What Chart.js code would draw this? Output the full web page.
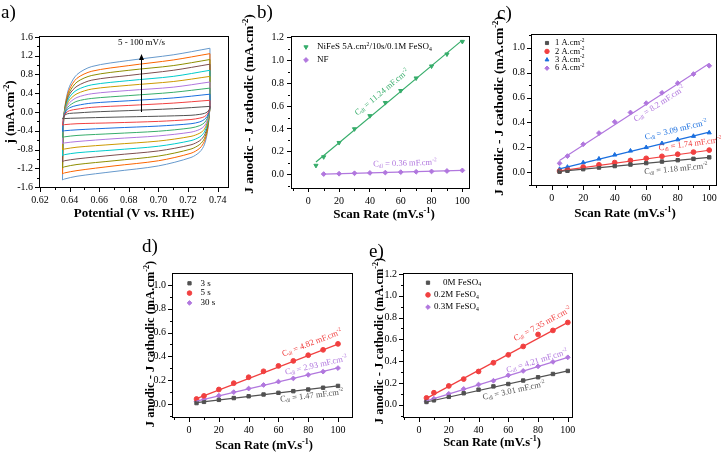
<!DOCTYPE html>
<html><head><meta charset="utf-8">
<script src="https://cdn.jsdelivr.net/npm/chart.js@4.4.1/dist/chart.umd.min.js"></script>
<style>
html,body{margin:0;padding:0;background:#fff;}
#wrap{position:relative;width:721px;height:454px;overflow:hidden;background:#fff;}
canvas{position:absolute;}
.ln{position:absolute;background:#000;z-index:1000;}
</style></head><body><div id="wrap">
<canvas id="ca"></canvas><canvas id="cb"></canvas><canvas id="cc"></canvas><canvas id="cd"></canvas><canvas id="ce"></canvas>
</div>
<script>
// ---------- DATA ----------
// (a) CV curves, scan rates 5..100 mV/s
const CV_RATES = [5, 10, 20, 30, 40, 50, 60, 70, 80, 90, 100];
const CV_P_FWD = [0.6352, 0.6360, 0.6375, 0.6400, 0.6450, 0.6550, 0.6800, 0.7100, 0.7348];
const CV_P_REV = [0.7348, 0.7348, 0.7343, 0.7330, 0.7310, 0.7280, 0.7220, 0.7000, 0.6700, 0.6450, 0.6365, 0.6352];
const CV_J_FWD = [
  [-0.15, -0.10, -0.05, -0.03, -0.02, 0.00, 0.03, 0.07, 0.12],
  [-0.28, -0.11, -0.02, 0.03, 0.06, 0.10, 0.14, 0.19, 0.25],
  [-0.41, -0.11, 0.01, 0.09, 0.14, 0.19, 0.24, 0.30, 0.38],
  [-0.54, -0.12, 0.04, 0.14, 0.23, 0.29, 0.35, 0.42, 0.51],
  [-0.67, -0.12, 0.07, 0.20, 0.31, 0.39, 0.46, 0.53, 0.64],
  [-0.80, -0.13, 0.10, 0.26, 0.39, 0.49, 0.57, 0.65, 0.76],
  [-0.93, -0.13, 0.13, 0.32, 0.47, 0.58, 0.67, 0.76, 0.89],
  [-1.06, -0.14, 0.16, 0.38, 0.55, 0.68, 0.78, 0.89, 1.02],
  [-1.19, -0.14, 0.19, 0.43, 0.64, 0.78, 0.89, 0.99, 1.12],
  [-1.32, -0.15, 0.22, 0.49, 0.72, 0.87, 0.99, 1.11, 1.245],
  [-1.45, -0.15, 0.25, 0.55, 0.80, 0.97, 1.10, 1.22, 1.36]
];
const CV_J_REV = [
  [0.12, 0.10, 0.05, 0.00, -0.03, -0.05, -0.07, -0.09, -0.11, -0.13, -0.14, -0.15],
  [0.25, 0.11, 0.035, -0.045, -0.10, -0.13, -0.16, -0.20, -0.23, -0.25, -0.27, -0.28],
  [0.38, 0.11, 0.02, -0.09, -0.16, -0.21, -0.25, -0.30, -0.34, -0.38, -0.40, -0.41],
  [0.51, 0.12, 0.005, -0.135, -0.23, -0.29, -0.34, -0.41, -0.46, -0.50, -0.53, -0.54],
  [0.64, 0.12, -0.01, -0.18, -0.30, -0.37, -0.43, -0.51, -0.57, -0.63, -0.66, -0.67],
  [0.76, 0.125, -0.025, -0.225, -0.37, -0.45, -0.52, -0.62, -0.69, -0.75, -0.79, -0.80],
  [0.89, 0.13, -0.04, -0.27, -0.43, -0.53, -0.61, -0.73, -0.81, -0.87, -0.91, -0.93],
  [1.02, 0.135, -0.055, -0.315, -0.50, -0.61, -0.70, -0.83, -0.92, -1.00, -1.04, -1.06],
  [1.12, 0.14, -0.07, -0.36, -0.57, -0.69, -0.79, -0.94, -1.04, -1.12, -1.17, -1.19],
  [1.245, 0.145, -0.085, -0.405, -0.63, -0.77, -0.88, -1.04, -1.15, -1.25, -1.30, -1.32],
  [1.36, 0.15, -0.10, -0.45, -0.70, -0.85, -0.97, -1.15, -1.27, -1.37, -1.43, -1.45]
];
const A_X_TICKS = [0.62, 0.64, 0.66, 0.68, 0.70, 0.72, 0.74];
const A_Y_TICKS = [-1.6, -1.2, -0.8, -0.4, 0.0, 0.4, 0.8, 1.2, 1.6];

// scan rates for (b)-(e)
const SCAN = [5, 10, 20, 30, 40, 50, 60, 70, 80, 90, 100];
const FIT_X = [5, 100];
const RATE_TICKS = [0, 20, 40, 60, 80, 100];

// (b)
const B_NIFES = [0.08, 0.155, 0.28, 0.40, 0.515, 0.63, 0.735, 0.845, 0.95, 1.055, 1.165];
const B_NF_X = [10, 20, 30, 40, 50, 60, 70, 80, 90, 100];
const B_NF = [0.005, 0.008, 0.012, 0.015, 0.018, 0.022, 0.025, 0.028, 0.032, 0.037];
const B_FIT_NIFES = [0.11, 1.178];
const B_FIT_NF_X = [10, 100];
const B_FIT_NF = [0.004, 0.037];
const B_Y_TICKS = [0.0, 0.2, 0.4, 0.6, 0.8, 1.0, 1.2];

// (c)
const C_1A = [0.005, 0.012, 0.025, 0.038, 0.05, 0.062, 0.074, 0.086, 0.097, 0.108, 0.12];
const C_2A = [0.01, 0.022, 0.042, 0.06, 0.078, 0.095, 0.112, 0.128, 0.145, 0.162, 0.178];
const C_3A = [0.025, 0.042, 0.078, 0.108, 0.14, 0.172, 0.20, 0.232, 0.262, 0.29, 0.318];
const C_6A = [0.072, 0.13, 0.225, 0.315, 0.405, 0.48, 0.555, 0.638, 0.715, 0.788, 0.855];
const C_FIT_1A = [0.008, 0.12];
const C_FIT_2A = [0.012, 0.177];
const C_FIT_3A = [0.028, 0.322];
const C_FIT_6A = [0.095, 0.874];
const CDE_Y_TICKS = [0.0, 0.2, 0.4, 0.6, 0.8, 1.0];

// (d)
const D_3S = [0.008, 0.018, 0.035, 0.05, 0.065, 0.08, 0.094, 0.108, 0.122, 0.137, 0.152];
const D_5S = [0.042, 0.068, 0.122, 0.175, 0.225, 0.275, 0.32, 0.362, 0.41, 0.455, 0.505];
const D_30S = [0.022, 0.04, 0.07, 0.10, 0.13, 0.16, 0.188, 0.215, 0.245, 0.272, 0.302];
const D_FIT_3S = [0.012, 0.152];
const D_FIT_5S = [0.045, 0.503];
const D_FIT_30S = [0.025, 0.303];

// (e)
const E_0M = [0.025, 0.04, 0.072, 0.105, 0.138, 0.168, 0.19, 0.222, 0.252, 0.282, 0.31];
const E_02M = [0.062, 0.11, 0.172, 0.235, 0.305, 0.385, 0.458, 0.535, 0.645, 0.682, 0.755];
const E_03M = [0.03, 0.055, 0.10, 0.145, 0.185, 0.22, 0.27, 0.31, 0.352, 0.393, 0.435];
const E_FIT_0M = [0.025, 0.311];
const E_FIT_02M = [0.058, 0.756];
const E_FIT_03M = [0.035, 0.435];
const E_Y_TICKS = [0.0, 0.2, 0.4, 0.6, 0.8, 1.0, 1.2];

// ---------- STYLE ----------
const PAL = ['#515151','#F14040','#1A6FDF','#37AD6B','#B177DE','#CC9900','#00CBCC','#7D4E4E','#8E8E00','#FB6501','#6699CC'];
const GRAY = '#515151', RED = '#F14040', BLUE = '#1A6FDF', GREEN = '#37AD6B', PURPLE = '#B177DE';
const FAM = "'Liberation Serif','Times New Roman',serif";

// ---------- helpers ----------
function parseRich(s){
  const out=[]; const re=/\{([_^])([^}]*)\}/g; let last=0,m;
  while((m=re.exec(s))){ if(m.index>last) out.push([s.slice(last,m.index),'']); out.push([m[2],m[1]]); last=re.lastIndex; }
  if(last<s.length) out.push([s.slice(last),'']);
  return out;
}
function drawRich(ctx, s, x, y, size, o){
  o = o || {};
  const segs=parseRich(s);
  const wt = o.bold ? 'bold ' : '';
  const fontFor = m => wt + (m ? size*0.64 : size) + 'px ' + FAM;
  let total=0;
  const ws=segs.map(([t,m])=>{ ctx.font=fontFor(m); const w=ctx.measureText(t).width; total+=w; return w; });
  ctx.save();
  ctx.translate(x,y); ctx.rotate(o.rot||0);
  ctx.fillStyle=o.color||'#000'; ctx.textBaseline='middle'; ctx.textAlign='left';
  let cx = o.align==='left' ? 0 : -total/2;
  segs.forEach(([t,m],i)=>{
    ctx.font=fontFor(m);
    const dy = m==='^' ? -size*0.33 : (m==='_' ? size*0.24 : 0);
    ctx.fillText(t,cx,dy); cx+=ws[i];
  });
  ctx.restore();
}
function pts(xs, ys){ return xs.map((x,i)=>({x:x, y:ys[i]})); }
function markerPoint(ctx, style, rot, r, x, y){
  if (Chart.helpers && Chart.helpers.drawPoint) {
    Chart.helpers.drawPoint(ctx, {pointStyle: style, rotation: rot||0, radius: r, borderWidth: 1}, x, y);
  }
}

// frame + ticks geometry, derived from the chart's own scales
function axisMarks(chart, withFrame, withMajor){
  const a = chart.chartArea, xs = chart.scales.x, ys = chart.scales.y;
  const L = Math.round(a.left)-1, T = Math.round(a.top)-1, R = Math.round(a.right), B = Math.round(a.bottom);
  const rects = withFrame ? [[L, T, R-L+1, 1], [L, B, R-L+1, 1], [L, T, 1, B-T+1], [R, T, 1, B-T+1]] : [];
  [[xs, true], [ys, false]].forEach(([scale, horiz]) => {
    const v = scale.ticks.map(t=>t.value);
    if (v.length < 2) return;
    const st = v[1]-v[0];
    if (withMajor) v.forEach(mv => {
      const p = Math.round(scale.getPixelForValue(mv));
      rects.push(horiz ? [p, B+1, 1, 4] : [L-4, p, 4, 1]);
    });
    for (let i=-1;i<v.length;i++){
      const mv = v[0] + (i+0.5)*st;
      if (mv < scale.min-1e-9 || mv > scale.max+1e-9) continue;
      const p = Math.round(scale.getPixelForValue(mv));
      rects.push(horiz ? [p, B+1, 1, 2] : [L-2, p, 2, 1]);
    }
  });
  return rects;
}

const panelPlugin = {
  id: 'panel',
  beforeDatasetsDraw(chart, args, o) {
    if (o.mode !== 'before') return;
    const ctx = chart.ctx;
    ctx.save(); ctx.fillStyle = '#000';
    axisMarks(chart, true, true).forEach(r => ctx.fillRect(r[0], r[1], r[2], r[3]));
    ctx.restore();
  },
  afterDraw(chart, args, o) {
    const ctx = chart.ctx, a = chart.chartArea, xs = chart.scales.x, ys = chart.scales.y;
    const ox = o.off[0], oy = o.off[1];
    ctx.save();
    ctx.fillStyle = '#000';
    if (o.mode === 'after') axisMarks(chart, true, true).forEach(r => ctx.fillRect(r[0], r[1], r[2], r[3]));
    if (o.mode === 'native') axisMarks(chart, false, false).forEach(r => ctx.fillRect(r[0], r[1], r[2], r[3]));
    if (o.arrow){
      const px = Math.round(xs.getPixelForValue(o.arrow.x))+0.5, p1 = ys.getPixelForValue(o.arrow.y1), p2 = ys.getPixelForValue(o.arrow.y2);
      ctx.strokeStyle='#000'; ctx.fillStyle='#000'; ctx.lineWidth=1;
      ctx.beginPath(); ctx.moveTo(px, p1); ctx.lineTo(px, p2+4); ctx.stroke();
      ctx.beginPath(); ctx.moveTo(px, p2); ctx.lineTo(px-2.5, p2+6); ctx.lineTo(px+2.5, p2+6); ctx.closePath(); ctx.fill();
      drawRich(ctx, o.arrow.text, px, ys.getPixelForValue(o.arrow.ty), o.arrow.size, {});
    }
    (o.anns||[]).forEach(an => {
      let rot = 0;
      if (an.fit){
        const dx = xs.getPixelForValue(an.fit[2]) - xs.getPixelForValue(an.fit[0]);
        const dy = ys.getPixelForValue(an.fit[3]) - ys.getPixelForValue(an.fit[1]);
        rot = Math.atan2(dy, dx);
      }
      drawRich(ctx, an.text, xs.getPixelForValue(an.x), ys.getPixelForValue(an.y), an.size, {color: an.color, rot: rot});
    });
    if (o.legend){
      const lg = o.legend;
      lg.items.forEach((it, i) => {
        const y = a.top + lg.y + i*lg.step;
        ctx.fillStyle = it.color; ctx.strokeStyle = it.color; ctx.lineWidth = 1;
        markerPoint(ctx, it.style, it.rot, lg.r, a.left + lg.mx, y);
        drawRich(ctx, it.label, a.left + lg.tx, y, lg.size, {align:'left', color:'#000'});
      });
    }
    (o.texts||[]).forEach(t => {
      drawRich(ctx, t.text, t.x-ox, t.y-oy, t.size, {bold: t.bold, rot: t.rot||0, align: t.align||'center', color: '#000'});
    });
    ctx.restore();
  }
};

function scaleCfg(min, max, ticks, fmt, horiz, thick, native){
  return {
    type: 'linear', min: min, max: max,
    position: horiz ? 'bottom' : 'left',
    afterBuildTicks: s => { s.ticks = ticks.map(v => ({value: v})); },
    afterFit: s => { if (horiz) s.height = thick; else s.width = thick; s.paddingLeft=0; s.paddingRight=0; s.paddingTop=0; s.paddingBottom=0; },
    ticks: { callback: v => fmt(v), font: {family: FAM, size: 10}, color: '#000', padding: 3, maxRotation: 0, autoSkip: false },
    grid: native ? { drawOnChartArea: false, drawTicks: true, tickLength: 4, color: '#000', tickColor: '#000', lineWidth: 1 }
                 : { drawOnChartArea: false, drawTicks: true, tickLength: 4, color: 'rgba(0,0,0,0)', tickColor: 'rgba(0,0,0,0)' },
    border: native ? { display: true, color: '#000', width: 1 } : { display: false }
  };
}
function edgeCfg(min, max, horiz){
  return {
    type: 'linear', min: min, max: max, position: horiz ? 'top' : 'right',
    ticks: { display: false }, grid: { display: false, drawTicks: false },
    border: { display: true, color: '#000', width: 1 },
    afterFit: s => { if (horiz) s.height = 0; else s.width = 0; s.paddingLeft=0; s.paddingRight=0; s.paddingTop=0; s.paddingBottom=0; }
  };
}

const CHARTS = [];
function buildOverlay(){
  const wrap = document.getElementById('wrap');
  wrap.querySelectorAll('.ln').forEach(el => el.remove());
  CHARTS.forEach(({chart, box, mode}) => {
    if (mode !== 'css' && mode !== 'after') return;
    axisMarks(chart, true, true).forEach(r => {
      const d = document.createElement('div'); d.className = 'ln';
      d.style.left = (box[0]+r[0])+'px'; d.style.top = (box[1]+r[1])+'px';
      d.style.width = r[2]+'px'; d.style.height = r[3]+'px';
      wrap.appendChild(d);
    });
  });
}

function makePanel(id, box, area, xs, ys, datasets, plug, mode){
  const cv = document.getElementById(id);
  cv.width = box[2]; cv.height = box[3];
  cv.style.left = box[0]+'px'; cv.style.top = box[1]+'px';
  const WY = xs.wy, HX = xs.hx;
  plug.off = [box[0], box[1]];
  plug.mode = mode;
  const native = mode === 'native';
  const scales = {
    x: scaleCfg(xs.min, xs.max, xs.ticks, xs.fmt, true, HX, native),
    y: scaleCfg(ys.min, ys.max, ys.ticks, ys.fmt, false, WY, native)
  };
  if (native){ scales.x2 = edgeCfg(xs.min, xs.max, true); scales.y2 = edgeCfg(ys.min, ys.max, false); }
  const chart = new Chart(cv.getContext('2d'), {
    type: 'scatter',
    data: { datasets: datasets },
    options: {
      responsive: false, animation: false, events: [], devicePixelRatio: 1,
      layout: { padding: { left: area[0]-box[0]-WY, top: area[1]-box[1], right: box[0]+box[2]-area[2], bottom: box[1]+box[3]-area[3]-HX } },
      plugins: { legend: {display:false}, tooltip: {enabled:false}, panel: plug },
      scales: scales
    },
    plugins: [panelPlugin]
  });
  CHARTS.push({chart: chart, box: box, mode: mode});
  return chart;
}

function markerDs(xv, yv, color, style, rot){
  return { data: pts(xv, yv), showLine: false, pointStyle: style, rotation: rot||0, pointRadius: 2.4,
    backgroundColor: color, borderColor: color, pointBorderWidth: 1 };
}
function fitDs(xv, yv, color){
  return { data: pts(xv, yv), showLine: true, pointRadius: 0, borderColor: color, borderWidth: 1.2 };
}
const f1 = v => v.toFixed(1), f0 = v => v.toFixed(0), f2 = v => v.toFixed(2);
const YT = 'J anodic - J cathodic (mA.cm{^-2})';
const XT = 'Scan Rate (mV.s{^-1})';
const RV = -Math.PI/2;

// ---------- (a) ----------
const cvSets = [];
CV_RATES.forEach((r, k) => {
  cvSets.push({ data: pts(CV_P_FWD, CV_J_FWD[k]), showLine: true, pointRadius: 0, borderColor: PAL[k], borderWidth: 1, tension: 0.3 });
  cvSets.push({ data: pts(CV_P_REV, CV_J_REV[k]), showLine: true, pointRadius: 0, borderColor: PAL[k], borderWidth: 1, tension: 0.3 });
});
makePanel('ca', [0,0,240,230], [40,37,228,187],
  {min: 0.62, max: 0.747, ticks: A_X_TICKS, fmt: f2, wy: 35, hx: 20},
  {min: -1.6, max: 1.6, ticks: A_Y_TICKS, fmt: f1},
  cvSets,
  { arrow: {x: 0.6885, y1: 0.0, y2: 1.24, ty: 1.47, text: '5 - 100 mV/s', size: 9},
    texts: [
      {x: 1, y: 13, text: 'a)', size: 19, align: 'left'},
      {x: 11, y: 112, text: 'j (mA.cm{^-2})', size: 13, bold: true, rot: RV},
      {x: 134, y: 214, text: 'Potential (V vs. RHE)', size: 13, bold: true}
    ] }, 'before');

// ---------- (b) ----------
makePanel('cb', [240,0,240,230], [291,36,469,188],
  {min: -11.2, max: 104.3, ticks: RATE_TICKS, fmt: f0, wy: 35, hx: 20},
  {min: -0.117, max: 1.214, ticks: B_Y_TICKS, fmt: f1},
  [ fitDs(FIT_X, B_FIT_NIFES, GREEN), fitDs(B_FIT_NF_X, B_FIT_NF, PURPLE),
    markerDs(SCAN, B_NIFES, GREEN, 'triangle', 180), markerDs(B_NF_X, B_NF, PURPLE, 'rectRot') ],
  { legend: {mx: 15, tx: 26, y: 11, step: 13, size: 9, r: 2.4, items: [
      {label: 'NiFeS 5A.cm{^2}/10s/0.1M FeSO{_4}', color: GREEN, style: 'triangle', rot: 180},
      {label: 'NF', color: PURPLE, style: 'rectRot'} ]},
    anns: [
      {x: 47.8, y: 0.72, text: 'C{_dl} = 11.24 mF.cm{^-2}', size: 8.5, color: GREEN, fit: [5, B_FIT_NIFES[0], 100, B_FIT_NIFES[1]]},
      {x: 62.7, y: 0.098, text: 'C{_dl} = 0.36 mF.cm{^-2}', size: 8.5, color: PURPLE, fit: [10, B_FIT_NF[0], 100, B_FIT_NF[1]]} ],
    texts: [
      {x: 257, y: 13, text: 'b)', size: 19, align: 'left'},
      {x: 250, y: 104, text: YT, size: 13.5, bold: true, rot: RV},
      {x: 384, y: 215, text: XT, size: 13, bold: true}
    ] }, 'native');

// ---------- (c) ----------
makePanel('cc', [480,0,241,230], [532,35,716,185],
  {min: -12.5, max: 104.3, ticks: RATE_TICKS, fmt: f0, wy: 35, hx: 20},
  {min: -0.102, max: 1.102, ticks: CDE_Y_TICKS, fmt: f1},
  [ fitDs(FIT_X, C_FIT_1A, GRAY), fitDs(FIT_X, C_FIT_2A, RED), fitDs(FIT_X, C_FIT_3A, BLUE), fitDs(FIT_X, C_FIT_6A, PURPLE),
    markerDs(SCAN, C_1A, GRAY, 'rect'), markerDs(SCAN, C_2A, RED, 'circle'), markerDs(SCAN, C_3A, BLUE, 'triangle'), markerDs(SCAN, C_6A, PURPLE, 'rectRot') ],
  { legend: {mx: 15, tx: 23, y: 8, step: 8.4, size: 8.5, r: 2.2, items: [
      {label: '1 A.cm{^-2}', color: GRAY, style: 'rect'},
      {label: '2 A.cm{^-2}', color: RED, style: 'circle'},
      {label: '3 A.cm{^-2}', color: BLUE, style: 'triangle'},
      {label: '6 A.cm{^-2}', color: PURPLE, style: 'rectRot'} ]},
    anns: [
      {x: 68.4, y: 0.548, text: 'C{_dl} = 8.2 mF.cm{^-2}', size: 8.5, color: PURPLE, fit: [5, C_FIT_6A[0], 100, C_FIT_6A[1]]},
      {x: 78.9, y: 0.34, text: 'C{_dl} = 3.09 mF.cm{^-2}', size: 8.5, color: BLUE, fit: [5, C_FIT_3A[0], 100, C_FIT_3A[1]]},
      {x: 88, y: 0.227, text: 'C{_dl} = 1.74 mF.cm{^-2}', size: 8.5, color: RED, fit: [5, C_FIT_2A[0], 100, C_FIT_2A[1]]},
      {x: 78.9, y: 0.026, text: 'C{_dl} = 1.18 mF.cm{^-2}', size: 8.5, color: GRAY, fit: [5, C_FIT_1A[0], 100, C_FIT_1A[1]]} ],
    texts: [
      {x: 497, y: 14, text: 'c)', size: 19, align: 'left'},
      {x: 500, y: 106, text: YT, size: 13.5, bold: true, rot: RV},
      {x: 625, y: 214, text: XT, size: 13, bold: true}
    ] }, 'css');

// ---------- (d) ----------
makePanel('cd', [140,225,220,229], [173,274,352,417],
  {min: -10.8, max: 109.4, ticks: RATE_TICKS, fmt: f0, wy: 30, hx: 20},
  {min: -0.109, max: 1.092, ticks: CDE_Y_TICKS, fmt: f1},
  [ fitDs(FIT_X, D_FIT_3S, GRAY), fitDs(FIT_X, D_FIT_5S, RED), fitDs(FIT_X, D_FIT_30S, PURPLE),
    markerDs(SCAN, D_3S, GRAY, 'rect'), markerDs(SCAN, D_5S, RED, 'circle'), markerDs(SCAN, D_30S, PURPLE, 'rectRot') ],
  { legend: {mx: 16.5, tx: 27.5, y: 9.3, step: 9.8, size: 9, r: 2.3, items: [
      {label: '3 s', color: GRAY, style: 'rect'},
      {label: '5 s', color: RED, style: 'circle'},
      {label: '30 s', color: PURPLE, style: 'rectRot'} ]},
    anns: [
      {x: 82.6, y: 0.513, text: 'C{_dl} = 4.82 mF.cm{^-2}', size: 8.5, color: RED, fit: [5, D_FIT_5S[0], 100, D_FIT_5S[1]]},
      {x: 85.3, y: 0.324, text: 'C{_dl} = 2.93 mF.cm{^-2}', size: 8.5, color: PURPLE, fit: [5, D_FIT_30S[0], 100, D_FIT_30S[1]]},
      {x: 82.4, y: 0.07, text: 'C{_dl} = 1.47 mF.cm{^-2}', size: 8.5, color: GRAY, fit: [5, D_FIT_3S[0], 100, D_FIT_3S[1]]} ],
    texts: [
      {x: 142, y: 247, text: 'd)', size: 19, align: 'left'},
      {x: 151, y: 344, text: YT, size: 12.5, bold: true, rot: RV},
      {x: 264, y: 446, text: XT, size: 12.5, bold: true}
    ] }, 'after');

// ---------- (e) ----------
makePanel('ce', [360,225,230,229], [404,274,572,417],
  {min: -10.1, max: 102.8, ticks: RATE_TICKS, fmt: f0, wy: 35, hx: 20},
  {min: -0.113, max: 1.2, ticks: E_Y_TICKS, fmt: f1},
  [ fitDs(FIT_X, E_FIT_0M, GRAY), fitDs(FIT_X, E_FIT_02M, RED), fitDs(FIT_X, E_FIT_03M, PURPLE),
    markerDs(SCAN, E_0M, GRAY, 'rect'), markerDs(SCAN, E_02M, RED, 'circle'), markerDs(SCAN, E_03M, PURPLE, 'rectRot') ],
  { legend: {mx: 24, tx: 30, y: 8.7, step: 12.2, size: 9, r: 2.3, items: [
      {label: '    0M FeSO{_4}', color: GRAY, style: 'rect'},
      {label: '0.2M FeSO{_4}', color: RED, style: 'circle'},
      {label: '0.3M FeSO{_4}', color: PURPLE, style: 'rectRot'} ]},
    anns: [
      {x: 83, y: 0.739, text: 'C{_dl} = 7.35 mF.cm{^-2}', size: 8.5, color: RED, fit: [5, E_FIT_02M[0], 100, E_FIT_02M[1]]},
      {x: 79.3, y: 0.40, text: 'C{_dl} = 4.21 mF.cm{^-2}', size: 8.5, color: PURPLE, fit: [5, E_FIT_03M[0], 100, E_FIT_03M[1]]},
      {x: 63.8, y: 0.128, text: 'C{_dl} = 3.01 mF.cm{^-2}', size: 8.5, color: GRAY, fit: [5, E_FIT_0M[0], 100, E_FIT_0M[1]]} ],
    texts: [
      {x: 369, y: 252, text: 'e)', size: 19, align: 'left'},
      {x: 380, y: 341, text: YT, size: 12.5, bold: true, rot: RV},
      {x: 492, y: 443, text: XT, size: 12.5, bold: true}
    ] }, 'after');

buildOverlay();
requestAnimationFrame(buildOverlay);
setTimeout(buildOverlay, 30);
window.addEventListener('load', buildOverlay);
</script>
</body></html>
